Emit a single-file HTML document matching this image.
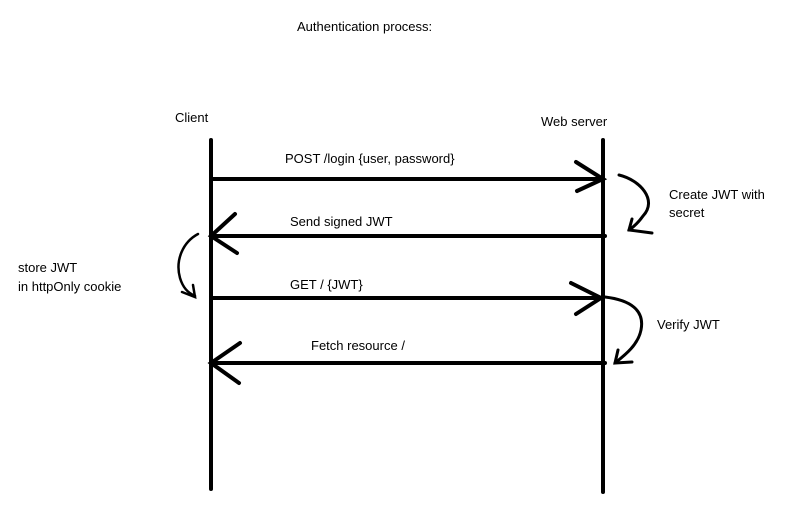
<!DOCTYPE html>
<html><head><style>
html,body{margin:0;padding:0;background:#fff;}
svg{display:block;}
text{font-family:"Liberation Sans",sans-serif;font-size:13px;fill:#000;}
</style></head><body>
<svg width="790" height="522" viewBox="0 0 790 522">
<g stroke="#000" stroke-linecap="round" fill="none">
<line x1="211" y1="140" x2="211" y2="489" stroke-width="4"/>
<line x1="603" y1="140" x2="603" y2="492" stroke-width="4"/>
<line x1="211" y1="179" x2="603" y2="179" stroke-width="4"/>
<polyline points="576,162 603,179 577,191" stroke-width="4"/>
<line x1="211" y1="236" x2="605" y2="236" stroke-width="4"/>
<polyline points="235,214 211,236 237,253" stroke-width="4"/>
<line x1="211" y1="298" x2="601" y2="298" stroke-width="4"/>
<polyline points="571,283 601,298 576,314" stroke-width="4"/>
<line x1="211" y1="363" x2="605" y2="363" stroke-width="4"/>
<polyline points="240,343 211,363 239,383" stroke-width="4"/>
<path d="M619,175 C640,180 658,200 643,216 C638,223 632,228 629,230" stroke-width="3"/>
<polyline points="632,219 629,230 652,233" stroke-width="3"/>
<path d="M605,297 C630,300 645,310 641,330 C638,345 625,355 615,363" stroke-width="3"/>
<polyline points="618,350 615,363 632,362" stroke-width="3"/>
<path d="M198,234 C183,242 175,260 180,278 C183,288 188,293 195,296" stroke-width="2.5"/>
<polyline points="182,292 195,297 193,285" stroke-width="2.5"/>
</g>
<text x="297" y="31">Authentication process:</text>
<text x="175" y="122">Client</text>
<text x="541" y="126">Web server</text>
<text x="285" y="163">POST /login {user, password}</text>
<text x="290" y="226">Send signed JWT</text>
<text x="290" y="289">GET / {JWT}</text>
<text x="311" y="350">Fetch resource /</text>
<text x="669" y="199">Create JWT with</text>
<text x="669" y="217">secret</text>
<text x="657" y="329">Verify JWT</text>
<text x="18" y="272">store JWT</text>
<text x="18" y="291">in httpOnly cookie</text>
</svg>
</body></html>
